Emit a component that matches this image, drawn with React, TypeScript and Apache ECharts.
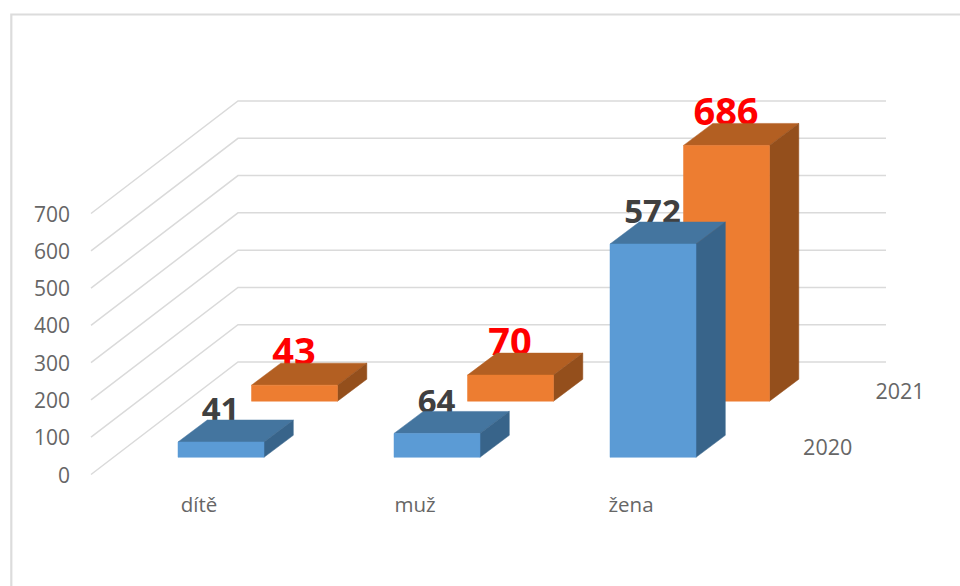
import React, { useEffect, useRef } from "react";
import * as echarts from "echarts";

const categories = ["dítě", "muž", "žena"];
const yTicks = [0, 100, 200, 300, 400, 500, 600, 700];
const values2020 = [41, 64, 572];
const values2021 = [43, 70, 686];
const depthNames = ["2020", "2021"];

const FONT = '"Open Sans", sans-serif';
const WALL = { x: 147, y: 112.5 };
const BAR_W = 86;
const BAR_DEPTH = { x: 29.3, y: 22 };

function barSeries(name: string, values: number[], style: any) {
  return {
    type: "custom",
    name,
    z: style.z,
    silent: true,
    data: values.map((v, i) => [i, v]),
    encode: { x: 0, y: 1 },
    renderItem(_p: any, api: any) {
      const cat = api.value(0);
      const v = api.value(1);
      const b = api.coord([cat, 0]);
      const t = api.coord([cat, v]);
      const x0 = b[0] + style.dx - BAR_W / 2;
      const x1 = x0 + BAR_W;
      const yb = b[1] - style.dy;
      const yt = t[1] - style.dy;
      const dx = BAR_DEPTH.x;
      const dy = BAR_DEPTH.y;
      const poly = (points: number[][], fill: string) => ({
        type: "polygon",
        shape: { points },
        style: { fill, stroke: fill, lineWidth: 0.5 },
      });
      return {
        type: "group",
        children: [
          {
            type: "text",
            x: x0 + BAR_W / 2 - 0.5,
            y: yt - dy + 0.5 - style.fontSize * 0.36,
            style: {
              text: String(v),
              font: `bold ${style.fontSize}px ${FONT}`,
              fill: style.labelColor,
              align: "center",
              verticalAlign: "middle",
            },
          },
          poly([[x0, yt], [x0 + dx, yt - dy], [x1 + dx, yt - dy], [x1, yt]], style.top),
          poly([[x1, yt], [x1 + dx, yt - dy], [x1 + dx, yb - dy], [x1, yb]], style.side),
          poly([[x0, yt], [x1, yt], [x1, yb], [x0, yb]], style.front),
        ],
      };
    },
  };
}

export default function App() {
  const ref = useRef<HTMLDivElement>(null);
  useEffect(() => {
    const chart = echarts.init(ref.current!, undefined, { renderer: "svg" });
    chart.setOption({
      animation: false,
      backgroundColor: "#ffffff",
      graphic: [
        {
          type: "polyline",
          shape: { points: [[11.3, 586], [11.3, 14.5], [960, 14.5]] },
          style: { fill: "none", stroke: "#dcdcdc", lineWidth: 2.2 },
          silent: true,
        },
      ],
      grid: { left: 91, top: 213.5, width: 648, height: 261 },
      xAxis: {
        type: "category",
        data: categories,
        axisLine: { show: false },
        axisTick: { show: false },
        axisLabel: { color: "#666666", fontFamily: FONT, fontSize: 20.5, margin: 19 },
      },
      yAxis: {
        type: "value",
        min: 0,
        max: 700,
        interval: 100,
        axisLine: { show: false },
        axisTick: { show: false },
        splitLine: { show: false },
        axisLabel: { color: "#666666", fontFamily: FONT, fontSize: 21, margin: 21 },
      },
      series: [
        {
          type: "custom",
          name: "walls",
          z: 1,
          silent: true,
          data: yTicks.map((v) => [0, v]),
          encode: { x: 0, y: 1 },
          renderItem(params: any, api: any) {
            const cs = params.coordSys;
            const y = api.coord([0, api.value(1)])[1];
            return {
              type: "polyline",
              shape: {
                points: [
                  [cs.x, y],
                  [cs.x + WALL.x, y - WALL.y],
                  [cs.x + cs.width + WALL.x, y - WALL.y],
                ],
              },
              style: { fill: "none", stroke: "#dadada", lineWidth: 1.5 },
            };
          },
        },
        {
          type: "custom",
          name: "depth",
          z: 1,
          silent: true,
          data: depthNames.map((_, i) => [0, i]),
          encode: { x: 0 },
          renderItem(params: any, api: any) {
            const cs = params.coordSys;
            const i = api.value(1);
            return {
              type: "text",
              x: cs.x + cs.width + 88.7 + i * 72.3,
              y: cs.y + cs.height - 27.8 - i * 56,
              style: {
                text: depthNames[i],
                font: `21.5px ${FONT}`,
                fill: "#666666",
                align: "center",
                verticalAlign: "middle",
              },
            };
          },
        },
        barSeries("2021", values2021, {
          z: 2, dx: 95.5, dy: 73.3, front: "#ED7D31", top: "#B35F22", side: "#944F1C",
          labelColor: "#FF0000", fontSize: 38,
        }),
        barSeries("2020", values2020, {
          z: 3, dx: 22, dy: 17.2, front: "#5B9BD5", top: "#44759F", side: "#38648A",
          labelColor: "#404040", fontSize: 33,
        }),
      ],
    });
    return () => chart.dispose();
  }, []);
  return (
    <div
      ref={ref}
      style={{ position: "absolute", left: 0, top: 0, width: 960, height: 586 }}
    />
  );
}
